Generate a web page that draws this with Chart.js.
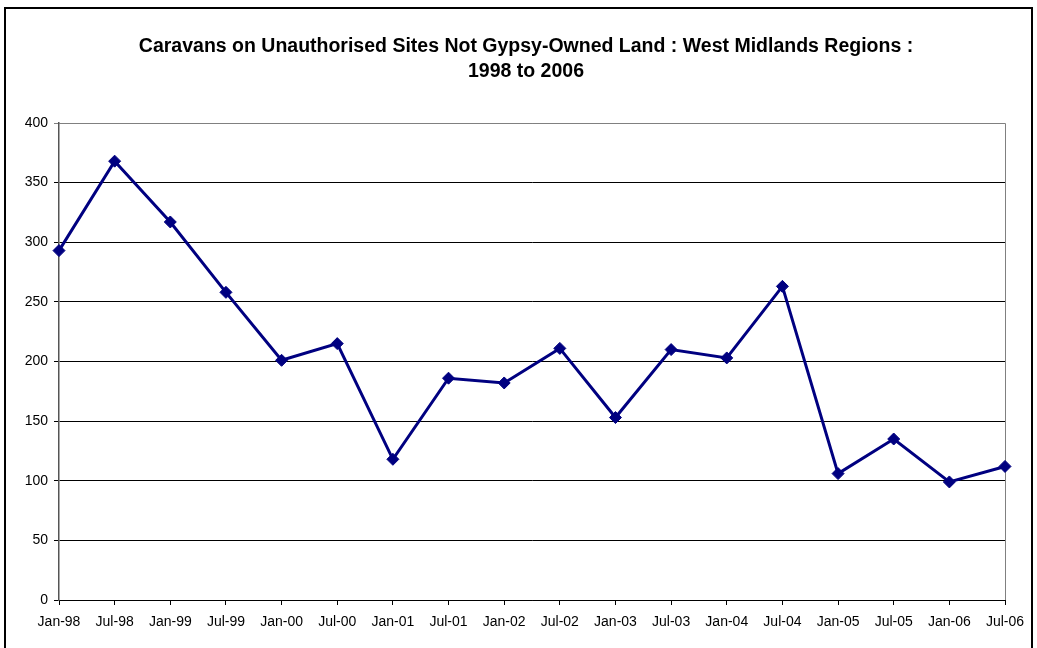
<!DOCTYPE html>
<html>
<head>
<meta charset="utf-8">
<script src="https://cdn.jsdelivr.net/npm/chart.js@4/dist/chart.umd.min.js"></script>
<style>
  html, body { margin: 0; padding: 0; background: #fff; overflow: hidden; }
  #moldura {
    position: absolute; left: 4px; top: 7px;
    width: 1025px; height: 660px;
    border: 2px solid #000;
  }
  #wrap { position: absolute; left: 0; top: 0; width: 1037px; height: 648px; }
</style>
</head>
<body>
<div id="moldura"></div>
<div id="wrap"><canvas id="grafico" width="1037" height="648"></canvas></div>
<script>
/* dados */
const periodos = [
  "Jan-98", "Jul-98", "Jan-99", "Jul-99", "Jan-00", "Jul-00",
  "Jan-01", "Jul-01", "Jan-02", "Jul-02", "Jan-03", "Jul-03",
  "Jan-04", "Jul-04", "Jan-05", "Jul-05", "Jan-06", "Jul-06"
];
const caravanas = [
  293, 368, 317, 258, 201, 215,
  118, 186, 182, 211, 153, 210,
  203, 263, 106, 135, 99, 112
];
const titulo = [
  "Caravans on Unauthorised Sites Not Gypsy-Owned Land : West Midlands Regions :",
  "1998 to 2006"
];

const FONTE = "'Liberation Sans', Arial, sans-serif";
const NAVY = "#000080";

// borda cinza da área do gráfico (lado direito / topo)
const bordaArea = {
  id: "bordaArea",
  beforeDatasetsDraw(chart) {
    const { ctx, chartArea: a } = chart;
    ctx.save();
    ctx.strokeStyle = "#808080";
    ctx.lineWidth = 1;
    ctx.beginPath();
    ctx.moveTo(a.left, a.top + 0.5);
    ctx.lineTo(a.right + 0.5, a.top + 0.5);
    ctx.lineTo(a.right + 0.5, a.bottom);
    ctx.stroke();
    ctx.restore();
  }
};

// título desenhado à mão: no original fica centrado em x≈526, não no meio do canvas
const tituloPlugin = {
  id: "tituloPlugin",
  afterDraw(chart) {
    const ctx = chart.ctx;
    ctx.save();
    ctx.fillStyle = "#000";
    ctx.font = "bold 19.5px " + FONTE;
    ctx.textAlign = "center";
    ctx.textBaseline = "middle";
    titulo.forEach((linha, i) => ctx.fillText(linha, 526, 47 + i * 25));
    ctx.restore();
  }
};

new Chart(document.getElementById("grafico").getContext("2d"), {
  type: "line",
  data: {
    labels: periodos,
    datasets: [{
      data: caravanas,
      borderColor: NAVY,
      backgroundColor: NAVY,
      borderWidth: 3,
      pointStyle: "rectRot",
      pointRadius: 6,
      pointBorderWidth: 1,
      tension: 0
    }]
  },
  options: {
    responsive: false,
    animation: false,
    layout: { padding: { left: 0, right: 32, top: 123, bottom: 0 } },
    plugins: {
      legend: { display: false },
      tooltip: { enabled: false },
      title: { display: false }
    },
    scales: {
      x: {
        offset: false,
        grid: {
          drawOnChartArea: false,
          drawTicks: true,
          tickLength: 5,
          color: "#000"
        },
        border: { color: "#000", width: 1 },
        ticks: {
          color: "#000",
          font: { family: FONTE, size: 14 },
          maxRotation: 0,
          autoSkip: false,
          padding: 9
        },
        afterFit: s => { s.height = 48; }
      },
      y: {
        min: 0,
        max: 400,
        grid: {
          color: c => c.tick && c.tick.value === 400 ? "#808080" : "#000",
          tickLength: 5,
          lineWidth: 1
        },
        border: { color: "#555", width: 1.5 },
        ticks: {
          stepSize: 50,
          color: "#000",
          font: { family: FONTE, size: 14 },
          padding: 6
        },
        afterFit: s => { s.width = 59; }
      }
    }
  },
  plugins: [bordaArea, tituloPlugin]
});
</script>
</body>
</html>
